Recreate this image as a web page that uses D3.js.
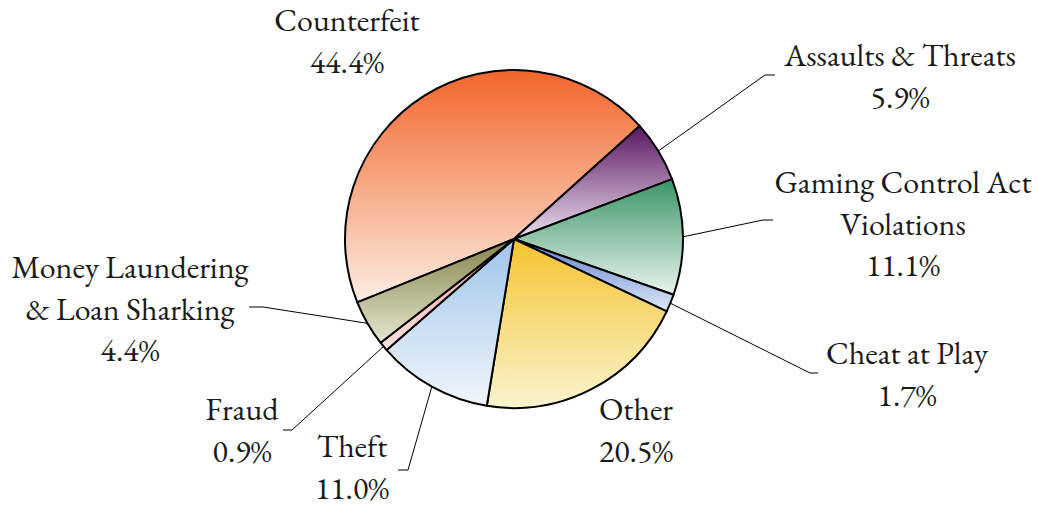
<!DOCTYPE html>
<html>
<head>
<meta charset="utf-8">
<script src="https://cdn.jsdelivr.net/npm/d3@7"></script>
<style>
  body { margin: 0; background: #fff; }
  text { font-family: "Garamond", "EB Garamond", "Liberation Serif", serif; fill: #1a1a1a; }
</style>
</head>
<body>
<script>
// Data
var categories = ["Counterfeit", "Assaults & Threats", "Gaming Control Act Violations", "Cheat at Play",
                  "Other", "Theft", "Fraud", "Money Laundering & Loan Sharking"];
var values = [44.4, 5.9, 11.1, 1.7, 20.5, 11.0, 0.9, 4.4];
var labelLines = [["Counterfeit"], ["Assaults & Threats"], ["Gaming Control Act", "Violations"], ["Cheat at Play"],
                  ["Other"], ["Theft"], ["Fraud"], ["Money Laundering", "& Loan Sharking"]];

// Gradient colours (top -> bottom)
var topColors = ["#f2652a", "#5a1560", "#3a9467", "#5a7cc8", "#f5c32f", "#a0c4ea", "#f29c9c", "#85834a"];
var bottomColors = ["#fdeee3", "#ebdff0", "#eaf4ee", "#dfeaf7", "#faf4cf", "#f0f6fc", "#fde3e3", "#e6e6cf"];

var width = 1039, height = 506;
var cx = 514, cy = 239, r = 169;

// label layout: text centre x, first baseline y, elbow [x,y], end [x,y]
var layout = [
  {x: 347, y: 31},
  {x: 900, y: 66, elbow: [765, 75], end: [775, 75]},
  {x: 903, y: 193, elbow: [763, 220], end: [773, 220]},
  {x: 907, y: 364, elbow: [810, 373], end: [818, 373]},
  {x: 636, y: 420},
  {x: 352, y: 457, elbow: [408, 470], end: [398, 470]},
  {x: 242, y: 420, elbow: [292, 430], end: [283, 430]},
  {x: 130, y: 278, elbow: [263, 307], end: [249, 307]}
];
var lineHeight = 41.5;

var svg = d3.select("body").append("svg")
    .attr("width", width)
    .attr("height", height);

var defs = svg.append("defs");
categories.forEach(function(c, i) {
  var lg = defs.append("linearGradient")
      .attr("id", "grad" + i)
      .attr("x1", 0).attr("y1", 0).attr("x2", 0).attr("y2", 1);
  lg.append("stop").attr("offset", "0%").attr("stop-color", topColors[i]);
  lg.append("stop").attr("offset", "100%").attr("stop-color", bottomColors[i]);
});

// Counterfeit ends at about 48 degrees (clockwise from 12 o'clock)
var total = d3.sum(values);
var startAngle = (48 - values[0] / total * 360) * Math.PI / 180;
var pie = d3.pie()
    .sort(null)
    .startAngle(startAngle)
    .endAngle(startAngle + 2 * Math.PI)
    .value(function(d) { return d; });

var arc = d3.arc().innerRadius(0).outerRadius(r);
var arcs = pie(values);

var g = svg.append("g").attr("transform", "translate(" + cx + "," + cy + ")");

g.selectAll("path.slice")
  .data(arcs)
  .enter().append("path")
    .attr("class", "slice")
    .attr("d", arc)
    .attr("fill", function(d, i) { return "url(#grad" + i + ")"; })
    .attr("stroke", "#000")
    .attr("stroke-width", 2)
    .attr("stroke-linejoin", "round");

// Leader lines
arcs.forEach(function(d, i) {
  var L = layout[i];
  if (!L.elbow) return;
  var a = (d.startAngle + d.endAngle) / 2;
  var sx = cx + r * Math.sin(a), sy = cy - r * Math.cos(a);
  svg.append("polyline")
    .attr("points", [[sx, sy], L.elbow, L.end].map(function(p) { return p.join(","); }).join(" "))
    .attr("fill", "none")
    .attr("stroke", "#000")
    .attr("stroke-width", 1);
});

// Labels
arcs.forEach(function(d, i) {
  var L = layout[i];
  var lines = labelLines[i].concat([values[i].toFixed(1) + "%"]);
  var t = svg.append("text")
      .attr("text-anchor", "middle")
      .attr("font-size", 32);
  lines.forEach(function(s, k) {
    t.append("tspan")
      .attr("x", L.x)
      .attr("y", L.y + k * lineHeight)
      .text(s);
  });
});
</script>
</body>
</html>
